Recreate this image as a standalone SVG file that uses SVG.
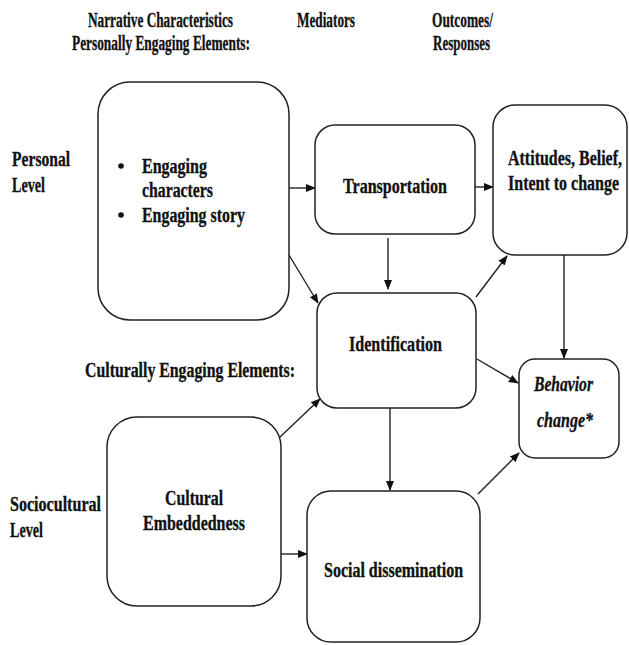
<svg xmlns="http://www.w3.org/2000/svg" width="629" height="645" viewBox="0 0 629 645">
<style>
text{font-family:"Liberation Serif","Times New Roman",serif;font-weight:bold;font-size:20px;fill:#111;stroke:#111;stroke-width:0.3}
.it{font-style:italic}
.box{fill:#fff;stroke:#222;stroke-width:1.5}
.ln{stroke:#222;stroke-width:1.4;fill:none;marker-end:url(#ah)}
.bul{fill:#111}
</style>
<defs>
<marker id="ah" viewBox="0 0 10 10" refX="9" refY="5" markerWidth="10" markerHeight="10" markerUnits="userSpaceOnUse" orient="auto">
<path d="M0,1 L10,5 L0,9 Z" fill="#111"/>
</marker>
</defs>
<rect width="629" height="645" fill="#fff"/>
<g id="headers">
<g transform="scale(0.72,1)">
<text x="122.2" y="27" textLength="201.4" lengthAdjust="spacingAndGlyphs">Narrative Characteristics</text>
<text x="100" y="50" textLength="247.2" lengthAdjust="spacingAndGlyphs">Personally Engaging Elements:</text>
<text x="412.5" y="27" textLength="80.6" lengthAdjust="spacingAndGlyphs">Mediators</text>
<text x="600" y="27" textLength="84.7" lengthAdjust="spacingAndGlyphs">Outcomes/</text>
<text x="601.4" y="50" textLength="79.2" lengthAdjust="spacingAndGlyphs">Responses</text>
<text x="16.7" y="166" textLength="80.6" lengthAdjust="spacingAndGlyphs">Personal</text>
<text x="16.7" y="192" textLength="45.8" lengthAdjust="spacingAndGlyphs">Level</text>
<text x="118.1" y="377" textLength="291.7" lengthAdjust="spacingAndGlyphs">Culturally Engaging Elements:</text>
<text x="13.9" y="511" textLength="126.4" lengthAdjust="spacingAndGlyphs">Sociocultural</text>
<text x="13.9" y="537" textLength="45.8" lengthAdjust="spacingAndGlyphs">Level</text>
</g>
</g>
<g id="connectors">
<line class="ln" x1="289" y1="188" x2="315" y2="188"/>
<line class="ln" x1="475" y1="187" x2="493" y2="187"/>
<line class="ln" x1="388" y1="238" x2="388" y2="289"/>
<line class="ln" x1="289" y1="255" x2="318" y2="303"/>
<line class="ln" x1="476" y1="297" x2="507" y2="256"/>
<line class="ln" x1="564" y1="255" x2="564" y2="358"/>
<line class="ln" x1="477" y1="359" x2="518" y2="383"/>
<line class="ln" x1="390" y1="408" x2="390" y2="490"/>
<line class="ln" x1="478" y1="494" x2="519" y2="453"/>
<line class="ln" x1="279" y1="438" x2="320" y2="399"/>
<line class="ln" x1="281" y1="554" x2="307" y2="554"/>
</g>
<g id="node-engaging">
<rect class="box" x="98" y="82" width="191" height="238" rx="32"/>
<circle class="bul" cx="121" cy="166" r="2.8"/>
<circle class="bul" cx="121" cy="215" r="2.8"/>
<g transform="scale(0.72,1)">
<text x="197.2" y="173" textLength="90.3" lengthAdjust="spacingAndGlyphs">Engaging</text>
<text x="197.2" y="197" textLength="98.6" lengthAdjust="spacingAndGlyphs">characters</text>
<text x="197.2" y="222" textLength="143.1" lengthAdjust="spacingAndGlyphs">Engaging story</text>
</g>
</g>
<g id="node-transportation">
<rect class="box" x="315" y="125" width="160" height="109" rx="20"/>
<g transform="scale(0.72,1)">
<text x="476.4" y="193" textLength="144.4" lengthAdjust="spacingAndGlyphs">Transportation</text>
</g>
</g>
<g id="node-attitudes">
<rect class="box" x="493" y="105" width="134" height="150" rx="22"/>
<g transform="scale(0.72,1)">
<text x="705.6" y="165" textLength="158.3" lengthAdjust="spacingAndGlyphs">Attitudes, Belief,</text>
<text x="705.6" y="190" textLength="154.2" lengthAdjust="spacingAndGlyphs">Intent to change</text>
</g>
</g>
<g id="node-identification">
<rect class="box" x="317" y="293" width="159" height="115" rx="20"/>
<g transform="scale(0.72,1)">
<text x="484.7" y="351" textLength="129.2" lengthAdjust="spacingAndGlyphs">Identification</text>
</g>
</g>
<g id="node-behavior">
<rect class="box" x="519" y="359" width="100" height="99" rx="16"/>
<g transform="scale(0.72,1)">
<text class="it" x="741.7" y="391" textLength="81.9" lengthAdjust="spacingAndGlyphs">Behavior</text>
<text class="it" x="745.8" y="427" textLength="77.8" lengthAdjust="spacingAndGlyphs">change*</text>
</g>
</g>
<g id="node-cultural">
<rect class="box" x="107" y="417" width="174" height="189" rx="30"/>
<g transform="scale(0.72,1)">
<text x="229.2" y="505" textLength="80.6" lengthAdjust="spacingAndGlyphs">Cultural</text>
<text x="198.6" y="530" textLength="141.7" lengthAdjust="spacingAndGlyphs">Embeddedness</text>
</g>
</g>
<g id="node-social">
<rect class="box" x="307" y="491" width="173" height="151" rx="24"/>
<g transform="scale(0.72,1)">
<text x="450" y="577" textLength="193.1" lengthAdjust="spacingAndGlyphs">Social dissemination</text>
</g>
</g>
</svg>
